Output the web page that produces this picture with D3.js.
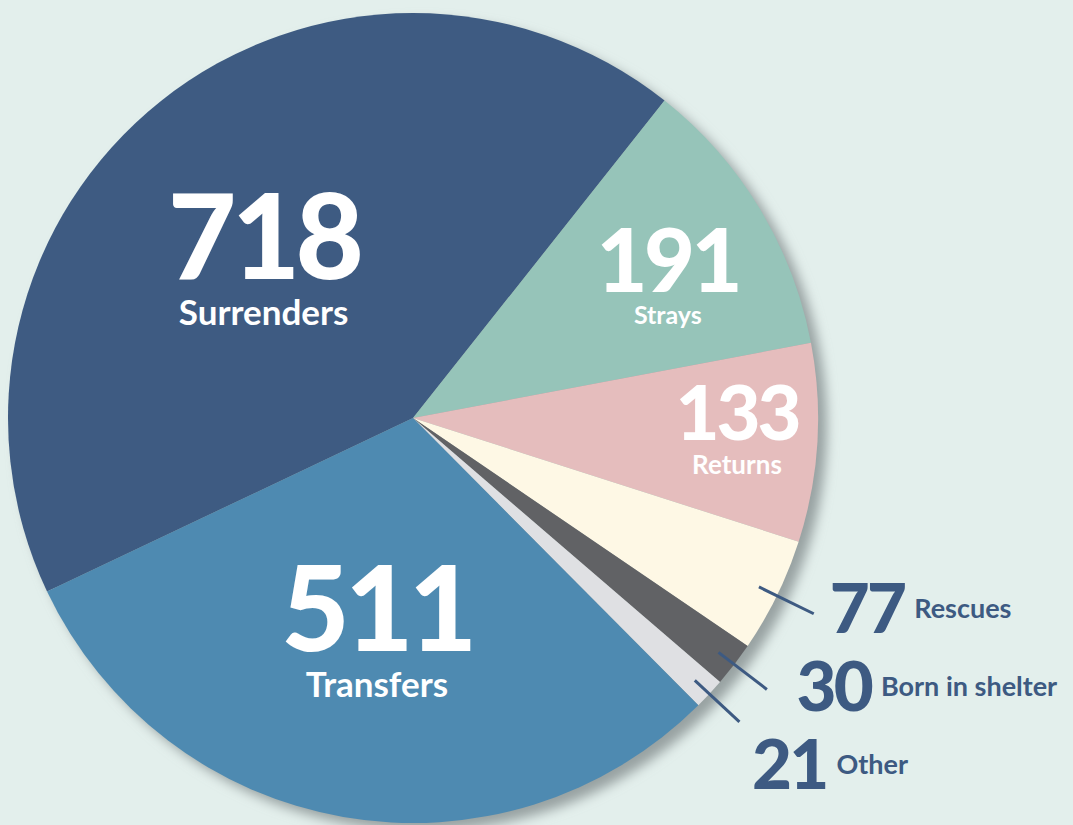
<!DOCTYPE html>
<html>
<head>
<meta charset="utf-8">
<title>Intake pie</title>
<style>
  body { margin: 0; padding: 0; background: #e3efec; }
  svg { display: block; }
  text { font-family: Lato, "Open Sans", sans-serif; }
</style>
</head>
<body>
<svg width="1073" height="825"></svg>
<script src="https://d3js.org/d3.v7.min.js"></script>
<script>

// intake counts, clockwise from the big slice
var categories = ["Surrenders", "Strays", "Returns", "Rescues", "Born in shelter", "Other", "Transfers"]
var values = [718, 191, 133, 77, 30, 21, 511]
var colors = ["#3e5b82", "#96c4b9", "#e5bdbd", "#fef8e5", "#616265", "#dfe0e3", "#4e8ab1"]

// how each label sits: inside the slice or outside with a leader line
var inside = { "Surrenders": [0.58, -1, 118, 35], "Strays": [0.74, -0.6, 88, 25],
               "Returns": [0.8, -4.5, 76, 26], "Transfers": [0.48, 0.8, 118, 35] }
var outside = { "Rescues": [458, -1.5], "Born in shelter": [468, -2.5], "Other": [484, 2.6] }

var W = 1073, H = 825
var cx = 413, cy = 418, R = 405
var deg = Math.PI / 180

var svg = d3.select("svg")

var data = categories.map((c, i) => ({ name: c, value: values[i], color: colors[i] }))

var start = 38.4 * deg - values[0] / d3.sum(values) * 2 * Math.PI
var pie = d3.pie().sort(null).value(d => d.value)
  .startAngle(start).endAngle(start + 2 * Math.PI)
var arcs = pie(data)

var arc = d3.arc().innerRadius(0).outerRadius(R)

var defs = svg.append("defs")
defs.append("filter").attr("id", "shadow")
  .attr("x", "-20%").attr("y", "-20%").attr("width", "140%").attr("height", "140%")
  .append("feGaussianBlur").attr("stdDeviation", 6)

var g = svg.append("g").attr("transform", `translate(${cx},${cy})`)

g.append("circle")
  .attr("cx", 9).attr("cy", 8).attr("r", R)
  .attr("fill", "#98a2a2")
  .attr("filter", "url(#shadow)")

g.selectAll("path.slice")
  .data(arcs)
  .enter()
  .append("path")
  .attr("class", "slice")
  .attr("d", arc)
  .attr("fill", d => d.data.color)

function at(angle, r) {
  return [r * Math.sin(angle), -r * Math.cos(angle)]
}

// big labels inside the slices
arcs.filter(d => inside[d.data.name]).forEach(d => {
  var o = inside[d.data.name]
  var mid = (d.startAngle + d.endAngle) / 2 + o[1] * deg
  var p = at(mid, R * o[0])
  var base = p[1] + o[2] * 0.36
  g.append("text")
    .attr("x", p[0]).attr("y", base)
    .attr("text-anchor", "middle")
    .attr("fill", "#fff")
    .style("font-weight", 900)
    .style("font-size", o[2] + "px")
    .style("letter-spacing", "-0.04em")
    .text(d.data.value)
  g.append("text")
    .attr("x", p[0]).attr("y", base + o[3] * 1.3)
    .attr("text-anchor", "middle")
    .attr("fill", "#fff")
    .style("font-weight", 700)
    .style("font-size", o[3] + "px")
    .text(d.data.name)
})

// small slices get a leader line and an outside label
arcs.filter(d => outside[d.data.name]).forEach(d => {
  var o = outside[d.data.name]
  var mid = (d.startAngle + d.endAngle) / 2
  var a = at(mid, 385), b = at(mid, 446)
  g.append("line")
    .attr("x1", a[0]).attr("y1", a[1])
    .attr("x2", b[0]).attr("y2", b[1])
    .attr("stroke", "#3d5a82")
    .attr("stroke-width", 3)

  var p = at(mid + o[1] * deg, o[0])
  var num = g.append("text")
    .attr("x", p[0]).attr("y", p[1] + 25)
    .attr("fill", "#3d5a82")
    .style("font-weight", 900)
    .style("font-size", "69px")
    .style("letter-spacing", "-0.04em")
    .text(d.data.value)
  var w = num.node().getComputedTextLength()
  g.append("text")
    .attr("x", p[0] + w + 10).attr("y", p[1] + 10)
    .attr("fill", "#3d5a82")
    .style("font-weight", 700)
    .style("font-size", "27px")
    .text(d.data.name)
})

</script>
</body>
</html>
